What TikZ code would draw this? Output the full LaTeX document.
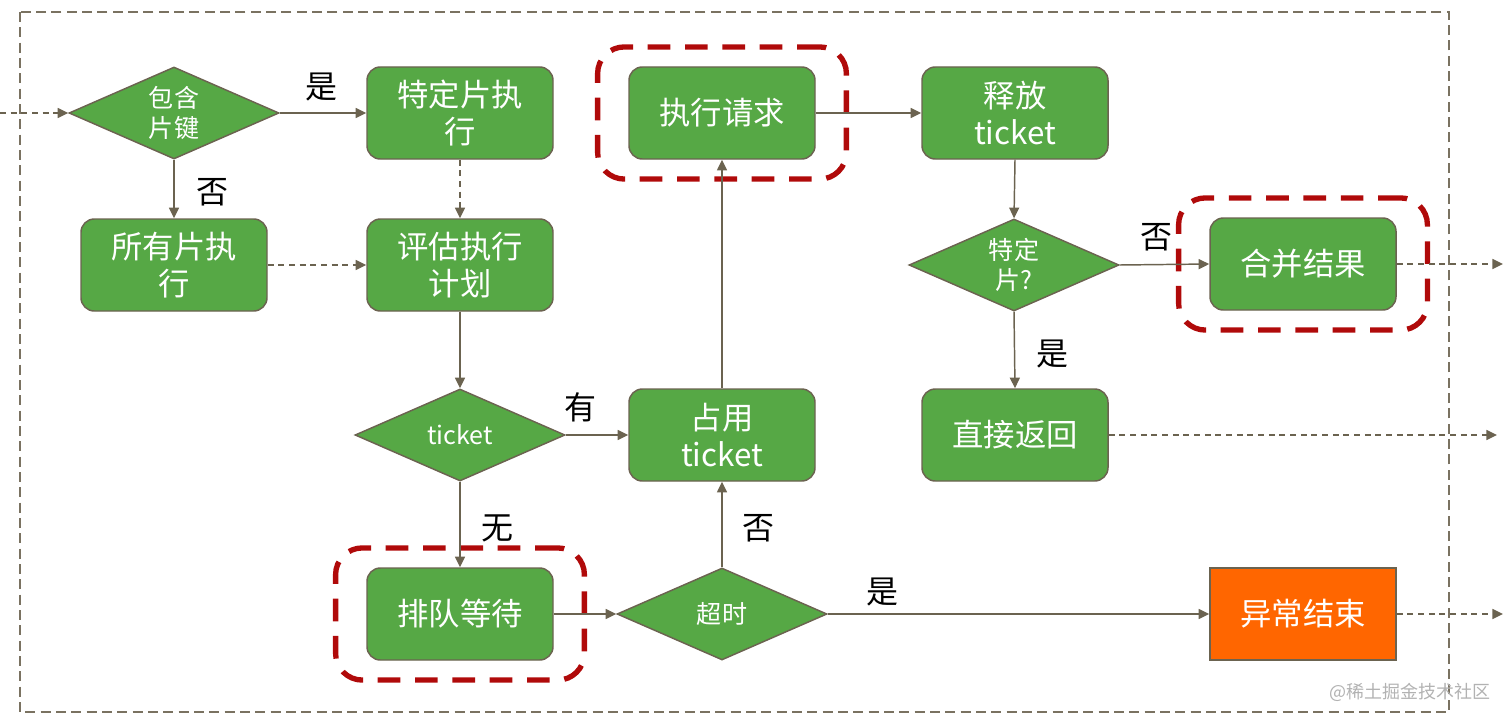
\documentclass[tikz,border=0pt]{standalone}
\usepackage{fontspec}
\newfontfamily\cjk{Noto Sans CJK SC}
\usetikzlibrary{shapes.geometric,arrows.meta,fit}
\definecolor{gfill}{HTML}{56A845}
\definecolor{edgec}{HTML}{6B6350}
\definecolor{redd}{HTML}{B00A0A}
\definecolor{orng}{HTML}{FF6600}
\tikzset{
  boxnode/.style={draw=edgec, line width=1.1pt, fill=gfill, rounded corners=10pt,
    minimum width=139.5pt, minimum height=69pt, inner sep=0pt, align=center,
    text=white, font=\cjk\fontsize{23.5}{28}\selectfont},
  endnode/.style={boxnode, fill=orng, rounded corners=0pt},
  dia/.style={draw=edgec, line width=1.1pt, fill=gfill, diamond, inner sep=0pt,
    minimum width=157.5pt, minimum height=69pt},
  diatext/.style={align=center, text=white, font=\cjk\fontsize{18.8}{22.5}\selectfont},
  arr/.style={draw=edgec, line width=1.1pt, -{Triangle[length=8pt,width=7.5pt]}},
  darr/.style={arr, dash pattern=on 4.5pt off 3.5pt},
  elabel/.style={text=black, font=\cjk\fontsize{24}{28}\selectfont},
  redbox/.style={draw=redd, line width=4pt, rounded corners=20pt,
    dash pattern=on 17pt off 11pt, inner xsep=23pt, inner ysep=14.5pt},
}
\begin{document}
\begin{tikzpicture}[x=0.75pt,y=-0.75pt]
\useasboundingbox (0,0) rectangle (1512,724);
% outer frame
\draw[edgec!90, line width=1.1pt, dash pattern=on 7.5pt off 4pt] (20,12) rectangle (1449,712);

% nodes
\node[dia] (d1) at (174,113) {};
\node[diatext] (d1t) at (174,113) {包含\\片键};
\node[boxnode] (spec) at (460,113) {特定片执\\行};
\node[boxnode] (all) at (174,265) {所有片执\\行};
\node[boxnode] (eval) at (460,265) {评估执行\\计划};
\node[dia] (d2) at (460,435) {};
\node[diatext] (d2t) at (460,435) {ticket};
\node[boxnode] (queue) at (460,614) {排队等待};
\node[dia] (d3) at (722,614) {};
\node[diatext] (d3t) at (722,614) {超时};
\node[boxnode] (take) at (722,435) {占用\\ticket};
\node[boxnode] (exec) at (722,113) {执行请求};
\node[boxnode] (rel) at (1015,113) {释放\\ticket};
\node[dia] (d4) at (1014,265) {};
\node[diatext] (d4t) at (1014,265) {特定\\片?};
\node[boxnode] (merge) at (1303,264) {合并结果};
\node[boxnode] (ret) at (1015,435) {直接返回};
\node[endnode] (fail) at (1303,614) {异常结束};

% red highlight boxes
\node[redbox, fit=(exec)] (r1) {};
\node[redbox, fit=(merge)] (r2) {};
\node[redbox, fit=(queue)] (r3) {};

% free ends
\coordinate (in) at (0,113);
\coordinate (o1) at (1503,264);
\coordinate (o2) at (1497,435);
\coordinate (o3) at (1503,614);

% connectors
\draw[darr] (in) -- (d1.west);
\draw[arr] (d1.east) -- (spec.west);
\draw[arr] (d1.south) -- (all.north);
\draw[darr] (spec.south) -- (eval.north);
\draw[darr] (all.east) -- (eval.west);
\draw[arr] (eval.south) -- (d2.north);
\draw[arr] (d2.east) -- (take.west);
\draw[arr] (d2.south) -- (queue.north);
\draw[arr] (queue.east) -- (d3.west);
\draw[arr] (d3.north) -- (take.south);
\draw[arr] (d3.east) -- (fail.west);
\draw[arr] (take.north) -- (exec.south);
\draw[arr] (exec.east) -- (rel.west);
\draw[arr] (rel.south) -- (d4.north);
\draw[arr] (d4.east) -- (merge.west);
\draw[arr] (d4.south) -- (ret.north);
\draw[darr] (merge.east) -- (o1);
\draw[darr] (ret.east) -- (o2);
\draw[darr] (fail.east) -- (o3);

% labels
\node[elabel] (l1) at (321,87) {是};
\node[elabel] (l2) at (212,192) {否};
\node[elabel] (l3) at (580,407) {有};
\node[elabel] (l4) at (497,528) {无};
\node[elabel] (l5) at (758,528) {否};
\node[elabel] (l6) at (882,592) {是};
\node[elabel] (l7) at (1156,237) {否};
\node[elabel] (l8) at (1052,354) {是};

% watermark
\node[text=black!30, font=\cjk\fontsize{13.5}{15}\selectfont] (wm) at (1410,692) {@稀土掘金技术社区};
\end{tikzpicture}
\end{document}
